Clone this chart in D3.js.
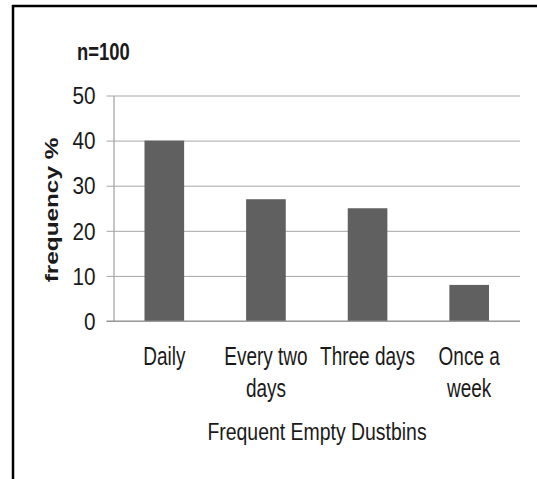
<!DOCTYPE html>
<html>
<head>
<meta charset="utf-8">
<script src="https://cdn.jsdelivr.net/npm/d3@7"></script>
<style>
  html, body { margin: 0; padding: 0; background: #fff; }
  svg { display: block; }
  text { font-family: "Liberation Sans", Arial, sans-serif; fill: #1a1a1a; }
</style>
</head>
<body>
<script>
// Frequency of emptying dustbins (percent of respondents, n=100)
const categories = ["Daily", "Every two days", "Three days", "Once a week"];
const categoryLines = [["Daily"], ["Every two", "days"], ["Three days"], ["Once a", "week"]];
const frequency = [40, 27, 25, 8];
const yTicks = [0, 10, 20, 30, 40, 50];
const sampleLabel = "n=100";
const yTitle = "frequency %";
const xTitle = "Frequent Empty Dustbins";

const W = 537, H = 479;
const plot = { left: 113.5, right: 520, top: 95.5, bottom: 321 };

// narrow the glyph run of a text node to a fraction of its natural width
function squeeze(node, factor) {
  const w = node.getComputedTextLength();
  d3.select(node).attr("textLength", w * factor).attr("lengthAdjust", "spacingAndGlyphs");
}

const svg = d3.select("body").append("svg")
  .attr("width", W).attr("height", H);

// frame: top and left rules
svg.append("line").attr("x1", 12).attr("x2", W).attr("y1", 6).attr("y2", 6)
  .attr("stroke", "#000").attr("stroke-width", 2.5);
svg.append("line").attr("x1", 13).attr("x2", 13).attr("y1", 5).attr("y2", H)
  .attr("stroke", "#000").attr("stroke-width", 2.5);

const x = d3.scaleBand().domain(categories).range([plot.left, plot.right]).padding(0);
const y = d3.scaleLinear().domain([0, 50]).range([plot.bottom, plot.top]);
const barW = x.bandwidth() * 0.39;

// horizontal gridlines with short outer ticks
const yAxis = d3.axisLeft(y).tickValues(yTicks)
  .tickSize(-(plot.right - plot.left)).tickSizeOuter(0).tickFormat(d3.format("d"));
const gy = svg.append("g").attr("transform", `translate(${plot.left},0)`).call(yAxis);
gy.select(".domain").attr("stroke", "#8c8c8c").attr("stroke-width", 1);
gy.selectAll(".tick line").attr("stroke", "#a6a6a6").attr("stroke-width", 1)
  .attr("x1", -7);
gy.selectAll(".tick text").attr("font-size", 23).attr("fill", "#1a1a1a")
  .attr("font-family", "'Liberation Sans', Arial, sans-serif")
  .attr("dy", "0.36em").attr("x", -18)
  .each(function() { squeeze(this, 0.9); });

// bars
svg.append("g").selectAll("rect").data(frequency).join("rect")
  .attr("x", (d, i) => x(categories[i]) + x.bandwidth() / 2 - barW / 2)
  .attr("width", barW)
  .attr("y", d => y(d))
  .attr("height", d => y(0) - y(d))
  .attr("fill", "#606060");

// baseline
svg.append("line").attr("x1", plot.left - 7).attr("x2", plot.right)
  .attr("y1", y(0)).attr("y2", y(0)).attr("stroke", "#8c8c8c");

// category labels (wrapped, one narrowed text per line)
categories.forEach((d, i) => {
  categoryLines[i].forEach((line, k) => {
    svg.append("text")
      .attr("transform", `translate(${x(d) + x.bandwidth() / 2},${365 + k * 32}) scale(0.76,1)`)
      .attr("text-anchor", "middle").attr("font-size", 25)
      .text(line);
  });
});

// axis titles
svg.append("text").attr("transform", "translate(317,440) scale(0.81,1)")
  .attr("text-anchor", "middle").attr("font-size", 24).text(xTitle);

svg.append("text").attr("transform", "translate(58,210) rotate(-90) scale(1.28,1)")
  .attr("text-anchor", "middle").attr("font-size", 19).attr("font-weight", "bold")
  .text(yTitle);

svg.append("text").attr("transform", "translate(77,60) scale(0.8,1)")
  .attr("font-size", 23).attr("font-weight", "bold").text(sampleLabel);
</script>
</body>
</html>
